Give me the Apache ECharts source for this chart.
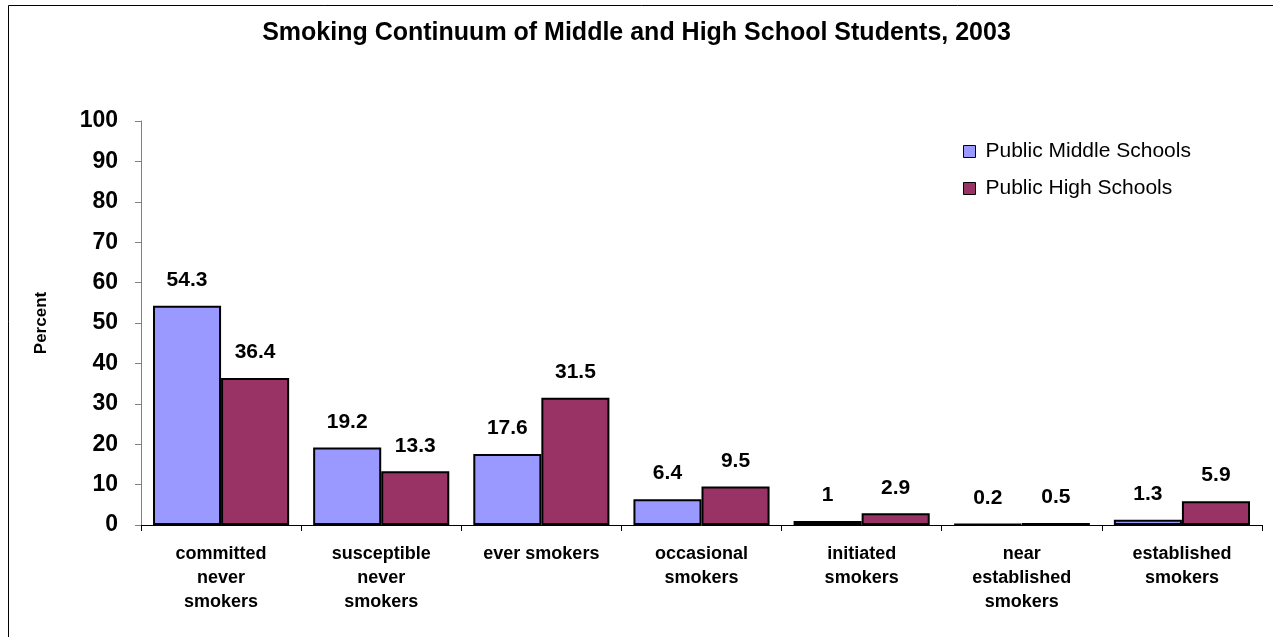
<!DOCTYPE html>
<html>
<head>
<meta charset="utf-8">
<script src="https://cdn.jsdelivr.net/npm/echarts@6/dist/echarts.min.js"></script>
<style>
  html, body { margin: 0; padding: 0; background: #fff; }
  #chart { width: 1273px; height: 637px; }
</style>
</head>
<body>
<div id="chart"></div>
<script>
// Smoking continuum categories (x axis)
const categories = [
  'committed\nnever\nsmokers',
  'susceptible\nnever\nsmokers',
  'ever smokers',
  'occasional\nsmokers',
  'initiated\nsmokers',
  'near\nestablished\nsmokers',
  'established\nsmokers'
];
const seriesNames = ['Public Middle Schools', 'Public High Schools'];
const middleSchool = [54.3, 19.2, 17.6, 6.4, 1, 0.2, 1.3];
const highSchool = [36.4, 13.3, 31.5, 9.5, 2.9, 0.5, 5.9];
const yTicks = { min: 0, max: 100, interval: 10 };

const font = 'Arial, "Liberation Sans", sans-serif';
const chart = echarts.init(document.getElementById('chart'));

const valueLabel = {
  show: true,
  position: 'top',
  distance: 15,
  fontFamily: font,
  fontWeight: 'bold',
  fontSize: 21,
  color: '#000'
};

chart.setOption({
  animation: false,
  backgroundColor: '#fff',
  title: {
    text: 'Smoking Continuum of Middle and High School Students, 2003',
    left: 'center',
    top: 16,
    textStyle: { fontFamily: font, fontWeight: 'bold', fontSize: 25, color: '#000' }
  },
  graphic: [{
    // outer frame; its right and bottom edges run past the canvas
    type: 'rect',
    shape: { x: 8.5, y: 5.5, width: 1280, height: 650 },
    style: { fill: 'none', stroke: '#000', lineWidth: 1 },
    silent: true
  }],
  legend: {
    orient: 'vertical',
    left: 958,
    top: 136,
    itemWidth: 12,
    itemHeight: 12,
    itemGap: 16,
    icon: 'rect',
    textStyle: { fontFamily: font, fontSize: 21, color: '#000', padding: [0, 0, 0, 5] },
    itemStyle: { borderColor: '#000', borderWidth: 1 }
  },
  grid: { left: 141, right: 11, top: 121, bottom: 112 },
  xAxis: {
    type: 'category',
    data: categories,
    axisLine: { lineStyle: { color: '#000', width: 1 } },
    axisTick: { show: true, length: 6, lineStyle: { color: '#000' } },
    axisLabel: {
      fontFamily: font,
      fontWeight: 'bold',
      fontSize: 18,
      color: '#000',
      lineHeight: 24,
      margin: 17,
      interval: 0
    }
  },
  yAxis: {
    type: 'value',
    min: yTicks.min,
    max: yTicks.max,
    interval: yTicks.interval,
    name: 'Percent',
    nameLocation: 'middle',
    nameGap: 91,
    nameTextStyle: { fontFamily: font, fontWeight: 'bold', fontSize: 17, color: '#000' },
    axisLine: { show: true, lineStyle: { color: '#808080' } },
    axisTick: { show: true, length: 6, lineStyle: { color: '#808080' } },
    splitLine: { show: false },
    axisLabel: {
      fontFamily: font,
      fontWeight: 'bold',
      fontSize: 23,
      color: '#000',
      margin: 23
    }
  },
  series: [
    {
      name: seriesNames[0],
      type: 'bar',
      data: middleSchool,
      barGap: '0%',
      barCategoryGap: '15%',
      itemStyle: { color: '#9999FF', borderColor: '#000', borderWidth: 2 },
      label: valueLabel
    },
    {
      name: seriesNames[1],
      type: 'bar',
      data: highSchool,
      barGap: '0%',
      barCategoryGap: '15%',
      itemStyle: { color: '#993366', borderColor: '#000', borderWidth: 2 },
      label: valueLabel
    }
  ]
});
</script>
</body>
</html>
